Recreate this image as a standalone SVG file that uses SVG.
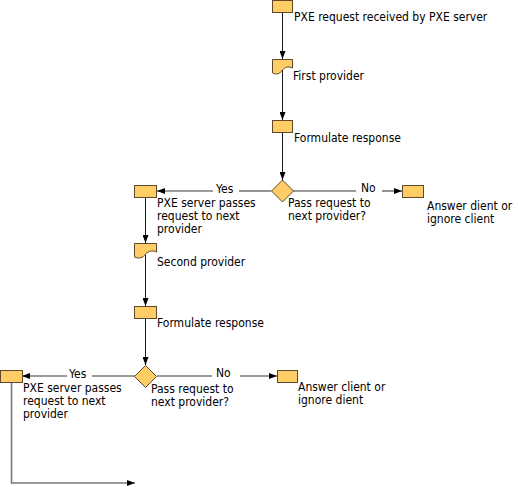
<svg xmlns="http://www.w3.org/2000/svg" width="518" height="487" viewBox="0 0 518 487">
<defs>
<style>
.box{fill:#FFCC66;stroke:#5c4a2a;stroke-width:1}
.v{stroke:#1a1a1a;stroke-width:1;fill:none}
.h{stroke:#7a7a7a;stroke-width:1.6;fill:none}
text{font-family:"DejaVu Sans Condensed","Liberation Sans",sans-serif;font-size:12px;fill:#000}
</style>
<marker id="arr" markerWidth="8" markerHeight="6" refX="8" refY="3" orient="auto" markerUnits="userSpaceOnUse">
<path d="M0,0 L8,3 L0,6 Z" fill="#000"/>
</marker>
</defs>
<rect width="518" height="487" fill="#fff"/>
<g id="connectors">
<line class="v" x1="282.5" y1="12" x2="282.5" y2="59" marker-end="url(#arr)"/>
<line class="v" x1="282.5" y1="70" x2="282.5" y2="120" marker-end="url(#arr)"/>
<line class="v" x1="282.5" y1="132" x2="282.5" y2="180" marker-end="url(#arr)"/>
<line class="h" x1="271" y1="191" x2="239" y2="191"/>
<line class="h" x1="213" y1="191" x2="157" y2="191" marker-end="url(#arr)"/>
<text x="216" y="193">Yes</text>
<line class="h" x1="293" y1="191" x2="356" y2="191"/>
<line class="h" x1="382" y1="191" x2="402" y2="191" marker-end="url(#arr)"/>
<text x="361" y="192">No</text>
<line class="v" x1="145.5" y1="197" x2="145.5" y2="243" marker-end="url(#arr)"/>
<line class="v" x1="145.5" y1="255" x2="145.5" y2="306" marker-end="url(#arr)"/>
<line class="v" x1="145.5" y1="318" x2="145.5" y2="365" marker-end="url(#arr)"/>
<line class="h" x1="135" y1="376" x2="92" y2="376"/>
<line class="h" x1="67" y1="376" x2="22" y2="376" marker-end="url(#arr)"/>
<text x="69" y="378">Yes</text>
<line class="h" x1="157" y1="376" x2="212" y2="376"/>
<line class="h" x1="240" y1="376" x2="277" y2="376" marker-end="url(#arr)"/>
<text x="216" y="377">No</text>
<polyline class="h" points="11.5,382 11.5,483 135,483" marker-end="url(#arr)"/>
</g>
<g id="n1"><rect class="box" x="272.5" y="0.5" width="20" height="12"/><text x="294" y="21">PXE request received by PXE server</text></g>
<g id="n2"><path class="box" d="M272.5,59.5 H292.5 V68 C288,66 285,67 282.5,70 C280,74 276,75 272.5,73 Z"/><text x="293" y="80">First provider</text></g>
<g id="n3"><rect class="box" x="272.5" y="120.5" width="20" height="12"/><text x="294" y="142">Formulate response</text></g>
<g id="n4"><path class="box" d="M282.5,180 L293.5,191 L282.5,202 L271.5,191 Z"/><text x="288" y="207">Pass request to</text><text x="288" y="220">next provider?</text></g>
<g id="n5"><rect class="box" x="402.5" y="185.5" width="21" height="12"/><text x="427" y="210">Answer dient or</text><text x="427" y="223">ignore client</text></g>
<g id="n6"><rect class="box" x="134.5" y="185.5" width="22" height="12"/><text x="157" y="207">PXE server passes</text><text x="157" y="220">request to next</text><text x="157" y="233">provider</text></g>
<g id="n7"><path class="box" d="M134.5,243.5 H156.5 V252 C152,250 149,251 145.5,254 C143,258 139,259 134.5,257 Z"/><text x="157" y="266">Second provider</text></g>
<g id="n8"><rect class="box" x="134.5" y="306.5" width="22" height="12"/><text x="157" y="327">Formulate response</text></g>
<g id="n9"><path class="box" d="M145.5,365.5 L156.5,376.5 L145.5,387.5 L134.5,376.5 Z"/><text x="151" y="393">Pass request to</text><text x="151" y="406">next provider?</text></g>
<g id="n10"><rect class="box" x="277.5" y="370.5" width="20" height="12"/><text x="298" y="391">Answer client or</text><text x="298" y="404">ignore dient</text></g>
<g id="n11"><rect class="box" x="0.5" y="370.5" width="22" height="12"/><text x="23" y="392">PXE server passes</text><text x="23" y="405">request to next</text><text x="23" y="418">provider</text></g>
</svg>
